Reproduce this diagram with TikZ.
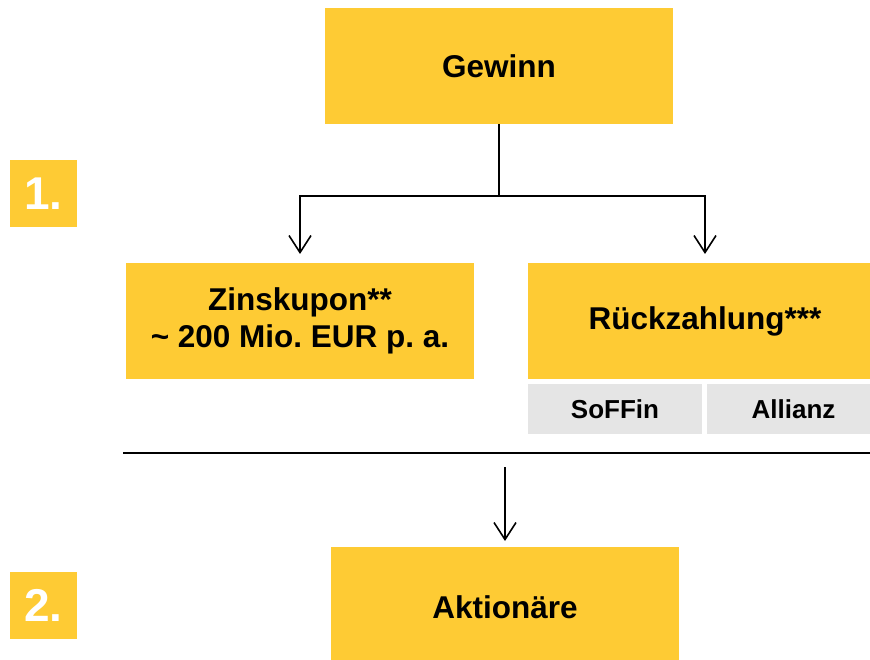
\documentclass[tikz,border=0pt]{standalone}
\usepackage{fontspec}
\setmainfont{Liberation Sans}
\usetikzlibrary{arrows.meta}
\definecolor{gelb}{RGB}{254,203,52}
\definecolor{grau}{RGB}{229,229,229}
\frenchspacing
\begin{document}
\begin{tikzpicture}[x=1pt,y=-1pt,
  box/.style={fill=gelb,draw=none,inner sep=0pt,outer sep=0pt,anchor=north west,align=center,
    font=\fontsize{31.5}{37}\selectfont\bfseries},
  subbox/.style={fill=grau,draw=none,inner sep=0pt,outer sep=0pt,anchor=north west,align=center,
    font=\fontsize{26}{30}\selectfont\bfseries},
  numbox/.style={fill=gelb,draw=none,inner sep=0pt,outer sep=0pt,anchor=north west,text=white,
    minimum width=67pt,minimum height=67pt,font=\fontsize{46}{50}\selectfont\bfseries},
  conn/.style={line width=1.6pt,-{Straight Barb[length=17pt,width=22pt,line width=1.6pt]}}]
\useasboundingbox (0,0) rectangle (870,660);
\fill[white] (0,0) rectangle (870,660);
\node[box,minimum width=348pt,minimum height=116pt] (gewinn) at (325,8) {Gewinn};
\node[box,minimum width=348pt,minimum height=116pt] (zins) at (126,263) {Zinskupon**\\\textasciitilde{} 200 Mio. EUR p. a.};
\node[box,minimum width=354pt,minimum height=116pt] (rueck) at (528,263) {Rückzahlung***};
\node[subbox,minimum width=174pt,minimum height=50pt] (soffin) at (528,384) {SoFFin};
\node[subbox,minimum width=173pt,minimum height=50pt] (allianz) at (707,384) {Allianz};
\node[box,minimum width=348pt,minimum height=120pt] (akt) at (331,547) {Aktionäre};
\node[numbox] (n1) at (10,160) {1.};
\node[numbox] (n2) at (10,572) {2.};
\coordinate (j) at (499,196);
\coordinate (sepL) at (123,453);
\coordinate (sepR) at (870,453);
\coordinate (a3) at (505,467);
\draw[line width=1.6pt] (gewinn.south) -- (j);
\draw[conn,shorten >=9pt] (j) -| (zins.north);
\draw[conn,shorten >=9pt] (j) -| (rueck.north);
\draw[line width=2pt] (sepL) -- (sepR);
\draw[conn,shorten >=6pt] (a3) -- (akt.north);
\end{tikzpicture}
\end{document}
